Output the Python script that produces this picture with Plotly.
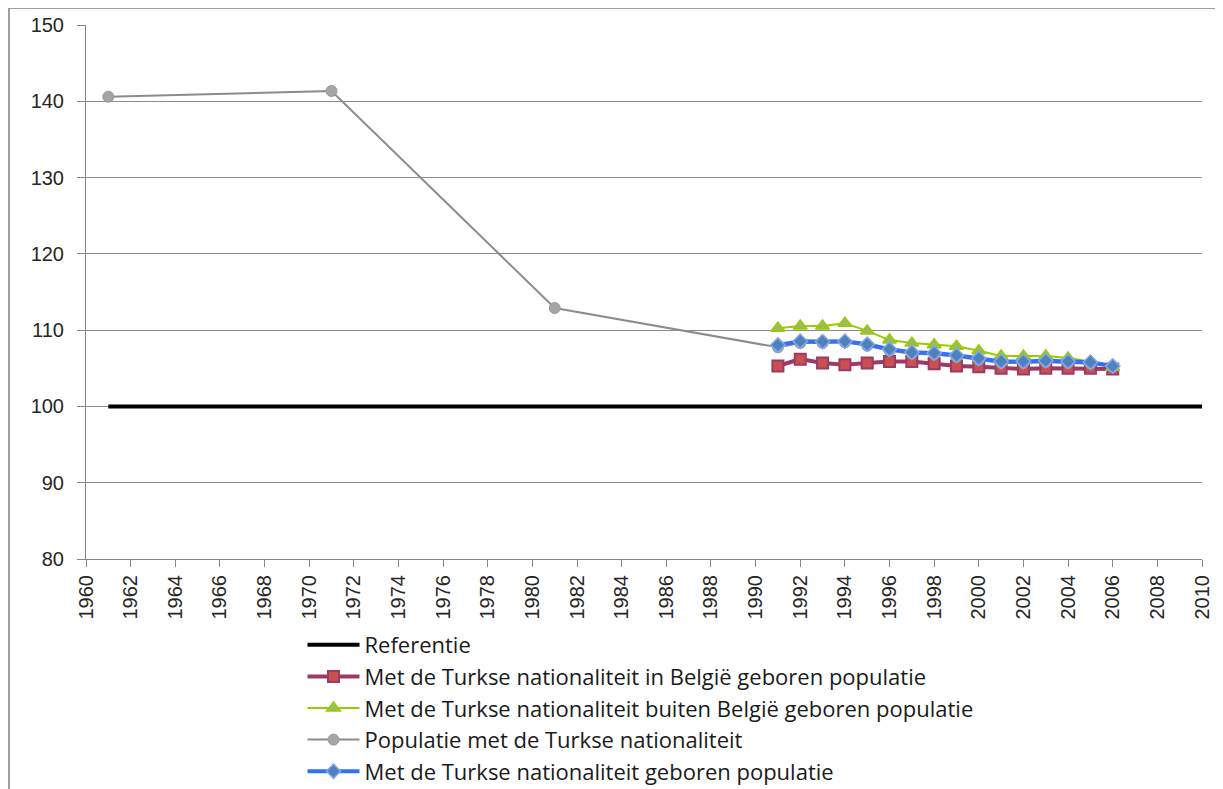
import plotly.graph_objects as go

# census / register years
years_census = [1961, 1971, 1981, 1991, 1992, 1993, 1994, 1995, 1996, 1997, 1998,
                1999, 2000, 2001, 2002, 2003, 2004, 2005, 2006]
years_reg = list(range(1991, 2007))
ref_years = [1961, 2010]

ref_values = [100, 100]
born_in_be = [105.3, 106.2, 105.7, 105.45, 105.7, 105.9, 105.9, 105.6,
              105.3, 105.2, 105.0, 104.9, 105.0, 105.0, 105.0, 104.9]
born_abroad = [110.25, 110.55, 110.55, 110.9, 109.9, 108.7, 108.3, 108.1,
               107.9, 107.3, 106.6, 106.6, 106.6, 106.35, 105.9, 105.1]
turkish_pop = [140.6, 141.35, 112.9, 107.75, 108.3, 108.3, 108.4, 107.95, 107.3,
               106.9, 106.8, 106.5, 106.1, 105.7, 105.7, 105.8, 105.7, 105.6, 105.2]
turkish_born = [108.05, 108.55, 108.5, 108.55, 108.15, 107.5, 107.1, 107.0,
                106.7, 106.3, 105.9, 105.9, 106.0, 105.9, 105.8, 105.3]

names = [
    "Referentie",
    "Met de Turkse nationaliteit in België geboren populatie",
    "Met de Turkse nationaliteit buiten België geboren populatie",
    "Populatie met de Turkse nationaliteit",
    "Met de Turkse nationaliteit geboren populatie",
]

fig = go.Figure()

fig.add_trace(go.Scatter(x=ref_years, y=ref_values, mode="lines", name=names[0],
                         line=dict(color="#000000", width=4)))
fig.add_trace(go.Scatter(x=years_reg, y=born_in_be, mode="lines+markers", name=names[1],
                         line=dict(color="#9B3A64", width=4),
                         marker=dict(symbol="square", size=11, color="#C9504F",
                                     line=dict(color="#9B3A64", width=2))))
fig.add_trace(go.Scatter(x=years_reg, y=born_abroad, mode="lines+markers", name=names[2],
                         line=dict(color="#99CC00", width=2),
                         marker=dict(symbol="triangle-up", size=12, color="#9BBB59",
                                     line=dict(color="#99CC00", width=1.5))))
fig.add_trace(go.Scatter(x=years_census, y=turkish_pop, mode="lines+markers", name=names[3],
                         line=dict(color="#8C8C8C", width=2),
                         marker=dict(symbol="circle", size=11, color="#A5A5A5",
                                     line=dict(color="#999999", width=1))))
fig.add_trace(go.Scatter(x=years_reg, y=turkish_born, mode="lines+markers", name=names[4],
                         line=dict(color="#3370F5", width=4),
                         marker=dict(symbol="diamond", size=11, color="#4F81BD",
                                     line=dict(color="#7FA8F0", width=1.5))))

axis_font = dict(family="Liberation Sans, Arial, sans-serif", size=20, color="#262626")

fig.update_xaxes(
    range=[1960, 2010], tickmode="linear", tick0=1960, dtick=2,
    tickangle=-90, tickfont=axis_font,
    showgrid=False, zeroline=False,
    showline=True, linecolor="#868686", linewidth=1,
    ticks="outside", ticklen=7, tickcolor="#868686",
)
fig.update_yaxes(
    range=[80, 150], tickmode="linear", tick0=80, dtick=10,
    tickfont=axis_font, ticklabelstandoff=9,
    showgrid=True, gridcolor="#8C8C8C", gridwidth=1, zeroline=False,
    showline=True, linecolor="#868686", linewidth=1,
    ticks="outside", ticklen=8, tickcolor="#868686",
)

# outer frame of the embedded chart (top and left edges visible)
fig.add_shape(type="line", xref="paper", yref="paper",
              x0=-0.069, x1=1.03, y0=1.032, y1=1.032,
              line=dict(color="#7F7F7F", width=1.5))
fig.add_shape(type="line", xref="paper", yref="paper",
              x0=-0.069, x1=-0.069, y0=1.032, y1=-0.45,
              line=dict(color="#7F7F7F", width=1.5))

# page body adds 8px, so the figure is a bit smaller than the window
fig.update_layout(
    width=1215, height=781,
    margin=dict(l=78, r=21, t=17, b=230, autoexpand=False),
    plot_bgcolor="white", paper_bgcolor="white",
    showlegend=True,
    legend=dict(
        x=0.194, y=-0.1217, xanchor="left", yanchor="top",
        font=dict(family="Open Sans, Lato, sans-serif", size=22, color="#1a1a1a"),
        tracegroupgap=0, itemwidth=52,
        bgcolor="rgba(0,0,0,0)",
    ),
)

fig.write_html("out.html")
